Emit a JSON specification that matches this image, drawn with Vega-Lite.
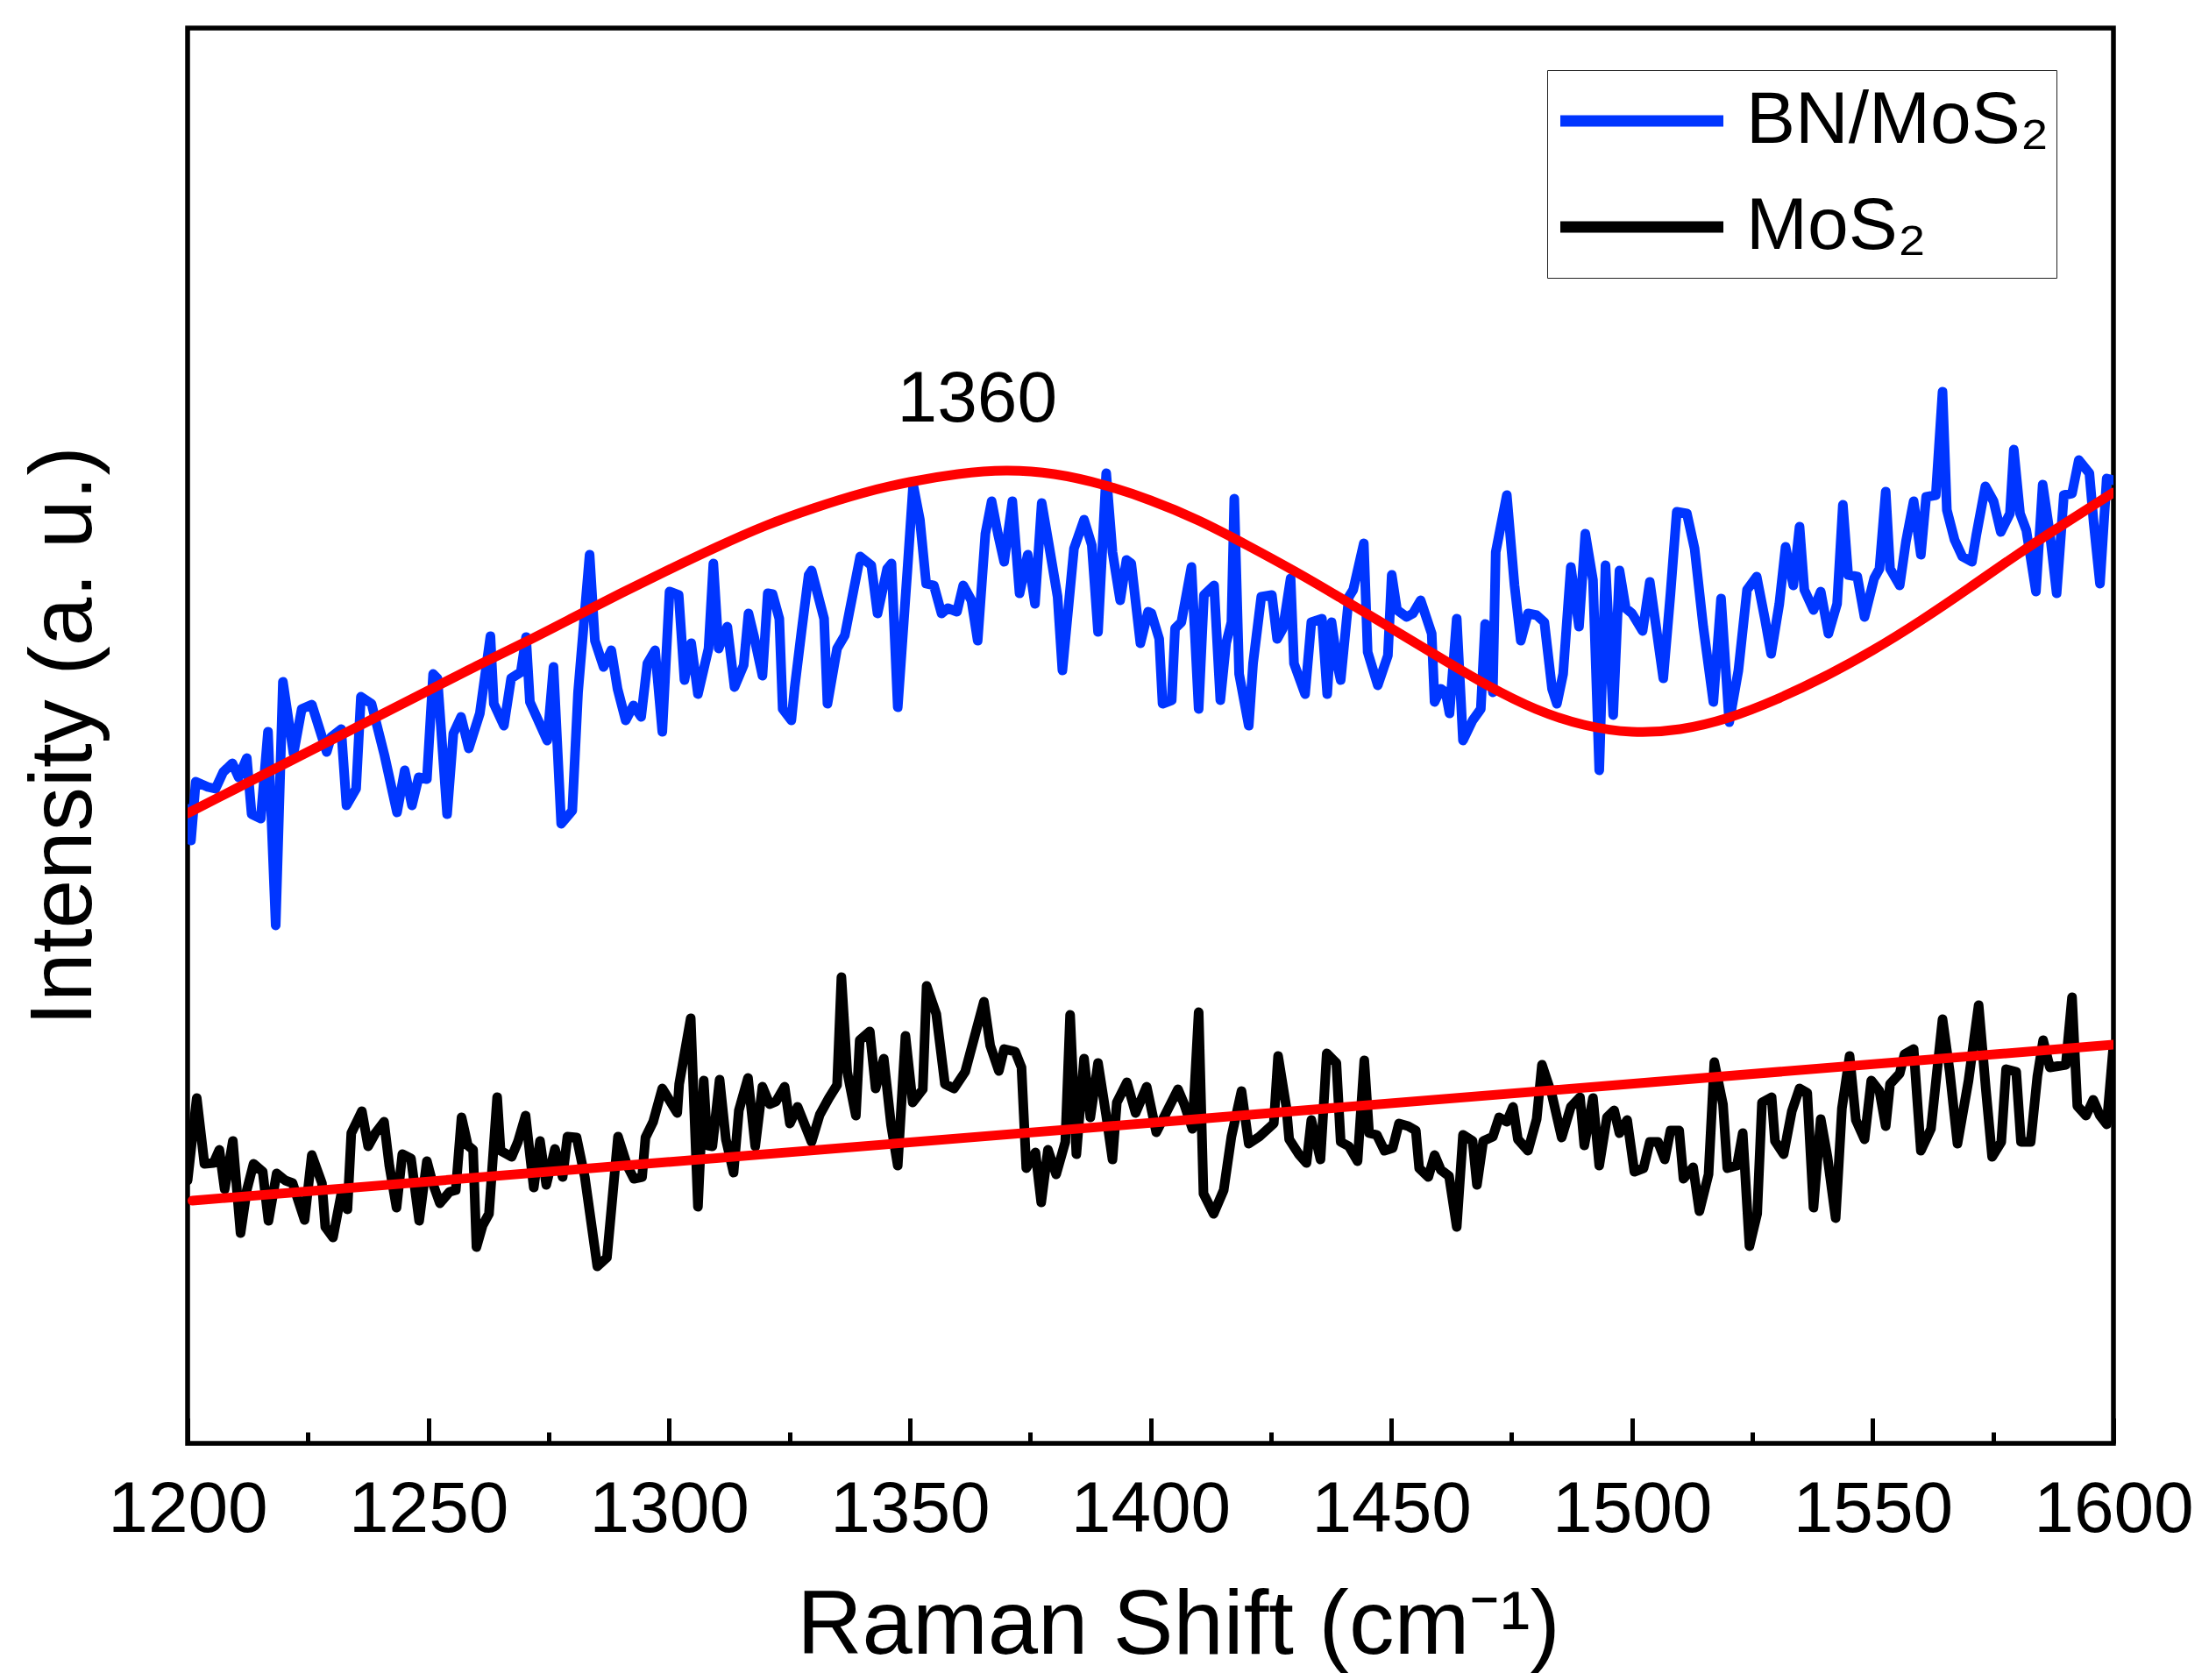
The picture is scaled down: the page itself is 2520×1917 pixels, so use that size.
{
  "$schema": "https://vega.github.io/schema/vega-lite/v6.json",
  "description": "Raman spectra of BN/MoS2 and MoS2 with fitted curves",
  "width": 2197,
  "height": 1615,
  "autosize": {"type": "none"},
  "padding": {"left": 214, "top": 32, "right": 109, "bottom": 270},
  "background": "white",
  "config": {
    "font": "Liberation Sans",
    "view": {"stroke": "#000000", "strokeWidth": 5.5},
    "axis": {"grid": false, "domain": false}
  },
  "datasets": {
    "spectra": [
      {"s": "BN/MoS₂", "x": 1200, "y": 724}, {"s": "BN/MoS₂", "x": 1200.7, "y": 688}, {"s": "BN/MoS₂", "x": 1201.7, "y": 755},
      {"s": "BN/MoS₂", "x": 1204.2, "y": 749}, {"s": "BN/MoS₂", "x": 1205.8, "y": 747}, {"s": "BN/MoS₂", "x": 1207.4, "y": 766},
      {"s": "BN/MoS₂", "x": 1209.3, "y": 776}, {"s": "BN/MoS₂", "x": 1210.6, "y": 760}, {"s": "BN/MoS₂", "x": 1212.3, "y": 782},
      {"s": "BN/MoS₂", "x": 1213.3, "y": 718}, {"s": "BN/MoS₂", "x": 1215.2, "y": 713}, {"s": "BN/MoS₂", "x": 1216.7, "y": 812},
      {"s": "BN/MoS₂", "x": 1218.3, "y": 591}, {"s": "BN/MoS₂", "x": 1219.8, "y": 869}, {"s": "BN/MoS₂", "x": 1222.0, "y": 787},
      {"s": "BN/MoS₂", "x": 1223.7, "y": 838}, {"s": "BN/MoS₂", "x": 1225.8, "y": 843}, {"s": "BN/MoS₂", "x": 1228.9, "y": 789},
      {"s": "BN/MoS₂", "x": 1229.8, "y": 806}, {"s": "BN/MoS₂", "x": 1231.9, "y": 815}, {"s": "BN/MoS₂", "x": 1233.0, "y": 728},
      {"s": "BN/MoS₂", "x": 1235.0, "y": 747}, {"s": "BN/MoS₂", "x": 1236.0, "y": 852}, {"s": "BN/MoS₂", "x": 1238.2, "y": 844},
      {"s": "BN/MoS₂", "x": 1240.9, "y": 785}, {"s": "BN/MoS₂", "x": 1243.5, "y": 720}, {"s": "BN/MoS₂", "x": 1245.1, "y": 768},
      {"s": "BN/MoS₂", "x": 1246.6, "y": 728}, {"s": "BN/MoS₂", "x": 1248.0, "y": 760}, {"s": "BN/MoS₂", "x": 1249.7, "y": 758},
      {"s": "BN/MoS₂", "x": 1251.0, "y": 878}, {"s": "BN/MoS₂", "x": 1251.9, "y": 873}, {"s": "BN/MoS₂", "x": 1253.9, "y": 718},
      {"s": "BN/MoS₂", "x": 1255.2, "y": 810}, {"s": "BN/MoS₂", "x": 1256.8, "y": 829}, {"s": "BN/MoS₂", "x": 1258.4, "y": 793},
      {"s": "BN/MoS₂", "x": 1260.7, "y": 833}, {"s": "BN/MoS₂", "x": 1262.9, "y": 921}, {"s": "BN/MoS₂", "x": 1263.6, "y": 844},
      {"s": "BN/MoS₂", "x": 1265.7, "y": 819}, {"s": "BN/MoS₂", "x": 1267.2, "y": 873}, {"s": "BN/MoS₂", "x": 1269.2, "y": 880},
      {"s": "BN/MoS₂", "x": 1270.3, "y": 920}, {"s": "BN/MoS₂", "x": 1271.1, "y": 846}, {"s": "BN/MoS₂", "x": 1274.7, "y": 802},
      {"s": "BN/MoS₂", "x": 1276.0, "y": 886}, {"s": "BN/MoS₂", "x": 1277.6, "y": 707}, {"s": "BN/MoS₂", "x": 1279.9, "y": 722},
      {"s": "BN/MoS₂", "x": 1281.1, "y": 857}, {"s": "BN/MoS₂", "x": 1283.5, "y": 1014}, {"s": "BN/MoS₂", "x": 1284.6, "y": 916},
      {"s": "BN/MoS₂", "x": 1286.4, "y": 886}, {"s": "BN/MoS₂", "x": 1288.0, "y": 905}, {"s": "BN/MoS₂", "x": 1289.3, "y": 861},
      {"s": "BN/MoS₂", "x": 1291.0, "y": 825}, {"s": "BN/MoS₂", "x": 1292.6, "y": 842}, {"s": "BN/MoS₂", "x": 1294.2, "y": 829},
      {"s": "BN/MoS₂", "x": 1295.5, "y": 890}, {"s": "BN/MoS₂", "x": 1297.1, "y": 905}, {"s": "BN/MoS₂", "x": 1298.6, "y": 812},
      {"s": "BN/MoS₂", "x": 1300.1, "y": 972}, {"s": "BN/MoS₂", "x": 1302.0, "y": 968}, {"s": "BN/MoS₂", "x": 1303.2, "y": 871},
      {"s": "BN/MoS₂", "x": 1304.6, "y": 913}, {"s": "BN/MoS₂", "x": 1306.0, "y": 855}, {"s": "BN/MoS₂", "x": 1308.2, "y": 907},
      {"s": "BN/MoS₂", "x": 1309.2, "y": 1004}, {"s": "BN/MoS₂", "x": 1310.3, "y": 907}, {"s": "BN/MoS₂", "x": 1312.1, "y": 932},
      {"s": "BN/MoS₂", "x": 1313.6, "y": 863}, {"s": "BN/MoS₂", "x": 1315.5, "y": 888}, {"s": "BN/MoS₂", "x": 1316.5, "y": 947},
      {"s": "BN/MoS₂", "x": 1317.6, "y": 922}, {"s": "BN/MoS₂", "x": 1319.4, "y": 876}, {"s": "BN/MoS₂", "x": 1320.5, "y": 970},
      {"s": "BN/MoS₂", "x": 1321.5, "y": 969}, {"s": "BN/MoS₂", "x": 1322.9, "y": 941}, {"s": "BN/MoS₂", "x": 1323.6, "y": 838},
      {"s": "BN/MoS₂", "x": 1325.4, "y": 825}, {"s": "BN/MoS₂", "x": 1326.1, "y": 863}, {"s": "BN/MoS₂", "x": 1327.5, "y": 926},
      {"s": "BN/MoS₂", "x": 1329.0, "y": 991}, {"s": "BN/MoS₂", "x": 1329.6, "y": 996}, {"s": "BN/MoS₂", "x": 1332.2, "y": 941},
      {"s": "BN/MoS₂", "x": 1332.9, "y": 844}, {"s": "BN/MoS₂", "x": 1334.9, "y": 907}, {"s": "BN/MoS₂", "x": 1336.5, "y": 922},
      {"s": "BN/MoS₂", "x": 1339.7, "y": 1012}, {"s": "BN/MoS₂", "x": 1342.0, "y": 1002}, {"s": "BN/MoS₂", "x": 1343.3, "y": 947},
      {"s": "BN/MoS₂", "x": 1345.3, "y": 998}, {"s": "BN/MoS₂", "x": 1346.2, "y": 1004}, {"s": "BN/MoS₂", "x": 1347.5, "y": 840},
      {"s": "BN/MoS₂", "x": 1349.5, "y": 996}, {"s": "BN/MoS₂", "x": 1350.7, "y": 1094}, {"s": "BN/MoS₂", "x": 1352.1, "y": 1054},
      {"s": "BN/MoS₂", "x": 1353.4, "y": 981}, {"s": "BN/MoS₂", "x": 1355.0, "y": 979}, {"s": "BN/MoS₂", "x": 1356.6, "y": 947},
      {"s": "BN/MoS₂", "x": 1357.9, "y": 953}, {"s": "BN/MoS₂", "x": 1359.8, "y": 949}, {"s": "BN/MoS₂", "x": 1361.1, "y": 979},
      {"s": "BN/MoS₂", "x": 1362.8, "y": 962}, {"s": "BN/MoS₂", "x": 1364.1, "y": 916}, {"s": "BN/MoS₂", "x": 1365.7, "y": 1038},
      {"s": "BN/MoS₂", "x": 1367.0, "y": 1075}, {"s": "BN/MoS₂", "x": 1368.3, "y": 1038}, {"s": "BN/MoS₂", "x": 1369.6, "y": 1006},
      {"s": "BN/MoS₂", "x": 1371.3, "y": 1075}, {"s": "BN/MoS₂", "x": 1372.8, "y": 970}, {"s": "BN/MoS₂", "x": 1374.5, "y": 1014},
      {"s": "BN/MoS₂", "x": 1376.0, "y": 958}, {"s": "BN/MoS₂", "x": 1377.4, "y": 1073}, {"s": "BN/MoS₂", "x": 1378.9, "y": 1025},
      {"s": "BN/MoS₂", "x": 1380.7, "y": 966}, {"s": "BN/MoS₂", "x": 1381.7, "y": 882}, {"s": "BN/MoS₂", "x": 1384.1, "y": 1021},
      {"s": "BN/MoS₂", "x": 1386.2, "y": 1054}, {"s": "BN/MoS₂", "x": 1387.8, "y": 1025}, {"s": "BN/MoS₂", "x": 1389.1, "y": 926},
      {"s": "BN/MoS₂", "x": 1390.8, "y": 1107}, {"s": "BN/MoS₂", "x": 1392.1, "y": 1017}, {"s": "BN/MoS₂", "x": 1393.7, "y": 962},
      {"s": "BN/MoS₂", "x": 1395.0, "y": 1008}, {"s": "BN/MoS₂", "x": 1396.0, "y": 1004}, {"s": "BN/MoS₂", "x": 1397.9, "y": 913},
      {"s": "BN/MoS₂", "x": 1399.5, "y": 949}, {"s": "BN/MoS₂", "x": 1400.2, "y": 947}, {"s": "BN/MoS₂", "x": 1401.8, "y": 918},
      {"s": "BN/MoS₂", "x": 1402.5, "y": 844}, {"s": "BN/MoS₂", "x": 1404.4, "y": 848}, {"s": "BN/MoS₂", "x": 1405.1, "y": 930},
      {"s": "BN/MoS₂", "x": 1406.4, "y": 937}, {"s": "BN/MoS₂", "x": 1408.5, "y": 1000}, {"s": "BN/MoS₂", "x": 1410.0, "y": 838},
      {"s": "BN/MoS₂", "x": 1411.1, "y": 968}, {"s": "BN/MoS₂", "x": 1413.2, "y": 979}, {"s": "BN/MoS₂", "x": 1414.5, "y": 848},
      {"s": "BN/MoS₂", "x": 1415.7, "y": 913}, {"s": "BN/MoS₂", "x": 1416.8, "y": 937}, {"s": "BN/MoS₂", "x": 1417.4, "y": 1078},
      {"s": "BN/MoS₂", "x": 1418.4, "y": 878}, {"s": "BN/MoS₂", "x": 1420.4, "y": 819}, {"s": "BN/MoS₂", "x": 1421.3, "y": 890},
      {"s": "BN/MoS₂", "x": 1423.0, "y": 966}, {"s": "BN/MoS₂", "x": 1425.2, "y": 968}, {"s": "BN/MoS₂", "x": 1426.3, "y": 918},
      {"s": "BN/MoS₂", "x": 1427.5, "y": 930}, {"s": "BN/MoS₂", "x": 1429.1, "y": 987}, {"s": "BN/MoS₂", "x": 1429.8, "y": 890},
      {"s": "BN/MoS₂", "x": 1432.1, "y": 855}, {"s": "BN/MoS₂", "x": 1433.4, "y": 937}, {"s": "BN/MoS₂", "x": 1435.6, "y": 941},
      {"s": "BN/MoS₂", "x": 1436.7, "y": 855}, {"s": "BN/MoS₂", "x": 1437.6, "y": 937}, {"s": "BN/MoS₂", "x": 1438.9, "y": 886},
      {"s": "BN/MoS₂", "x": 1439.5, "y": 871}, {"s": "BN/MoS₂", "x": 1441.2, "y": 966}, {"s": "BN/MoS₂", "x": 1442.1, "y": 974},
      {"s": "BN/MoS₂", "x": 1444.3, "y": 1027}, {"s": "BN/MoS₂", "x": 1445.1, "y": 903}, {"s": "BN/MoS₂", "x": 1447.2, "y": 865},
      {"s": "BN/MoS₂", "x": 1449.3, "y": 899}, {"s": "BN/MoS₂", "x": 1450.1, "y": 991}, {"s": "BN/MoS₂", "x": 1451.2, "y": 951},
      {"s": "BN/MoS₂", "x": 1453.2, "y": 943}, {"s": "BN/MoS₂", "x": 1454.5, "y": 947}, {"s": "BN/MoS₂", "x": 1456.1, "y": 962},
      {"s": "BN/MoS₂", "x": 1458.4, "y": 924}, {"s": "BN/MoS₂", "x": 1459.0, "y": 846}, {"s": "BN/MoS₂", "x": 1460.3, "y": 861},
      {"s": "BN/MoS₂", "x": 1461.3, "y": 857}, {"s": "BN/MoS₂", "x": 1462.1, "y": 833}, {"s": "BN/MoS₂", "x": 1463.6, "y": 941},
      {"s": "BN/MoS₂", "x": 1464.9, "y": 802}, {"s": "BN/MoS₂", "x": 1466.9, "y": 825}, {"s": "BN/MoS₂", "x": 1468.6, "y": 838},
      {"s": "BN/MoS₂", "x": 1469.5, "y": 935}, {"s": "BN/MoS₂", "x": 1471.1, "y": 857}, {"s": "BN/MoS₂", "x": 1471.7, "y": 1017},
      {"s": "BN/MoS₂", "x": 1474.0, "y": 1082}, {"s": "BN/MoS₂", "x": 1475.6, "y": 979}, {"s": "BN/MoS₂", "x": 1476.9, "y": 916},
      {"s": "BN/MoS₂", "x": 1478.4, "y": 947}, {"s": "BN/MoS₂", "x": 1480.2, "y": 945}, {"s": "BN/MoS₂", "x": 1481.8, "y": 937},
      {"s": "BN/MoS₂", "x": 1483.4, "y": 861}, {"s": "BN/MoS₂", "x": 1484.4, "y": 844}, {"s": "BN/MoS₂", "x": 1485.7, "y": 878},
      {"s": "BN/MoS₂", "x": 1487.3, "y": 1000}, {"s": "BN/MoS₂", "x": 1489.0, "y": 932}, {"s": "BN/MoS₂", "x": 1490.3, "y": 1038},
      {"s": "BN/MoS₂", "x": 1491.9, "y": 985}, {"s": "BN/MoS₂", "x": 1493.2, "y": 768}, {"s": "BN/MoS₂", "x": 1494.5, "y": 1002},
      {"s": "BN/MoS₂", "x": 1496.1, "y": 831}, {"s": "BN/MoS₂", "x": 1497.4, "y": 996}, {"s": "BN/MoS₂", "x": 1498.7, "y": 953},
      {"s": "BN/MoS₂", "x": 1500.0, "y": 947}, {"s": "BN/MoS₂", "x": 1502.2, "y": 927}, {"s": "BN/MoS₂", "x": 1503.7, "y": 983},
      {"s": "BN/MoS₂", "x": 1505.0, "y": 932}, {"s": "BN/MoS₂", "x": 1506.5, "y": 873}, {"s": "BN/MoS₂", "x": 1508.0, "y": 970},
      {"s": "BN/MoS₂", "x": 1509.3, "y": 1063}, {"s": "BN/MoS₂", "x": 1511.4, "y": 1061}, {"s": "BN/MoS₂", "x": 1513.0, "y": 1021},
      {"s": "BN/MoS₂", "x": 1514.8, "y": 932}, {"s": "BN/MoS₂", "x": 1516.9, "y": 846}, {"s": "BN/MoS₂", "x": 1518.5, "y": 964},
      {"s": "BN/MoS₂", "x": 1520.2, "y": 823}, {"s": "BN/MoS₂", "x": 1522.1, "y": 882}, {"s": "BN/MoS₂", "x": 1523.9, "y": 974},
      {"s": "BN/MoS₂", "x": 1525.9, "y": 989}, {"s": "BN/MoS₂", "x": 1527.6, "y": 941}, {"s": "BN/MoS₂", "x": 1528.9, "y": 901},
      {"s": "BN/MoS₂", "x": 1530.6, "y": 958}, {"s": "BN/MoS₂", "x": 1531.9, "y": 1023}, {"s": "BN/MoS₂", "x": 1533.5, "y": 979},
      {"s": "BN/MoS₂", "x": 1534.8, "y": 1046}, {"s": "BN/MoS₂", "x": 1535.8, "y": 974}, {"s": "BN/MoS₂", "x": 1537.7, "y": 951},
      {"s": "BN/MoS₂", "x": 1539.2, "y": 972}, {"s": "BN/MoS₂", "x": 1540.8, "y": 924}, {"s": "BN/MoS₂", "x": 1542.6, "y": 958},
      {"s": "BN/MoS₂", "x": 1543.8, "y": 1071}, {"s": "BN/MoS₂", "x": 1544.9, "y": 991}, {"s": "BN/MoS₂", "x": 1546.8, "y": 989},
      {"s": "BN/MoS₂", "x": 1548.3, "y": 943}, {"s": "BN/MoS₂", "x": 1550.3, "y": 987}, {"s": "BN/MoS₂", "x": 1551.4, "y": 998},
      {"s": "BN/MoS₂", "x": 1552.7, "y": 1086}, {"s": "BN/MoS₂", "x": 1553.6, "y": 998}, {"s": "BN/MoS₂", "x": 1555.6, "y": 979},
      {"s": "BN/MoS₂", "x": 1556.9, "y": 1029}, {"s": "BN/MoS₂", "x": 1558.5, "y": 1075}, {"s": "BN/MoS₂", "x": 1560.0, "y": 1014},
      {"s": "BN/MoS₂", "x": 1561.1, "y": 1080}, {"s": "BN/MoS₂", "x": 1563.1, "y": 1082}, {"s": "BN/MoS₂", "x": 1564.5, "y": 1200},
      {"s": "BN/MoS₂", "x": 1565.4, "y": 1065}, {"s": "BN/MoS₂", "x": 1567.0, "y": 1031}, {"s": "BN/MoS₂", "x": 1568.6, "y": 1012},
      {"s": "BN/MoS₂", "x": 1570.6, "y": 1006}, {"s": "BN/MoS₂", "x": 1571.5, "y": 1036}, {"s": "BN/MoS₂", "x": 1573.4, "y": 1092},
      {"s": "BN/MoS₂", "x": 1575.1, "y": 1075}, {"s": "BN/MoS₂", "x": 1576.6, "y": 1040}, {"s": "BN/MoS₂", "x": 1578.5, "y": 1061},
      {"s": "BN/MoS₂", "x": 1579.3, "y": 1134}, {"s": "BN/MoS₂", "x": 1580.6, "y": 1061}, {"s": "BN/MoS₂", "x": 1581.9, "y": 1042},
      {"s": "BN/MoS₂", "x": 1583.9, "y": 972}, {"s": "BN/MoS₂", "x": 1585.3, "y": 1094}, {"s": "BN/MoS₂", "x": 1586.8, "y": 1038},
      {"s": "BN/MoS₂", "x": 1588.2, "y": 970}, {"s": "BN/MoS₂", "x": 1589.7, "y": 1082}, {"s": "BN/MoS₂", "x": 1591.4, "y": 1084},
      {"s": "BN/MoS₂", "x": 1592.8, "y": 1122}, {"s": "BN/MoS₂", "x": 1595.0, "y": 1107}, {"s": "BN/MoS₂", "x": 1595.9, "y": 1050},
      {"s": "BN/MoS₂", "x": 1597.2, "y": 981}, {"s": "BN/MoS₂", "x": 1598.6, "y": 1101}, {"s": "BN/MoS₂", "x": 1600.0, "y": 1099},

      {"s": "MoS₂", "x": 1200, "y": 300}, {"s": "MoS₂", "x": 1201.9, "y": 394}, {"s": "MoS₂", "x": 1203.5, "y": 319},
      {"s": "MoS₂", "x": 1205.4, "y": 320}, {"s": "MoS₂", "x": 1206.6, "y": 335}, {"s": "MoS₂", "x": 1207.7, "y": 290},
      {"s": "MoS₂", "x": 1209.4, "y": 345}, {"s": "MoS₂", "x": 1211.0, "y": 240}, {"s": "MoS₂", "x": 1212.3, "y": 289},
      {"s": "MoS₂", "x": 1213.7, "y": 319}, {"s": "MoS₂", "x": 1215.6, "y": 310}, {"s": "MoS₂", "x": 1216.8, "y": 254},
      {"s": "MoS₂", "x": 1218.5, "y": 308}, {"s": "MoS₂", "x": 1220.3, "y": 300}, {"s": "MoS₂", "x": 1221.8, "y": 297},
      {"s": "MoS₂", "x": 1224.3, "y": 255}, {"s": "MoS₂", "x": 1225.8, "y": 329}, {"s": "MoS₂", "x": 1227.9, "y": 297},
      {"s": "MoS₂", "x": 1228.6, "y": 247}, {"s": "MoS₂", "x": 1230.2, "y": 235}, {"s": "MoS₂", "x": 1231.9, "y": 284},
      {"s": "MoS₂", "x": 1233.2, "y": 267}, {"s": "MoS₂", "x": 1234.0, "y": 354}, {"s": "MoS₂", "x": 1236.2, "y": 379},
      {"s": "MoS₂", "x": 1237.5, "y": 339}, {"s": "MoS₂", "x": 1239.0, "y": 354}, {"s": "MoS₂", "x": 1240.8, "y": 367},
      {"s": "MoS₂", "x": 1241.9, "y": 317}, {"s": "MoS₂", "x": 1243.4, "y": 269}, {"s": "MoS₂", "x": 1244.6, "y": 330},
      {"s": "MoS₂", "x": 1246.4, "y": 325}, {"s": "MoS₂", "x": 1248.1, "y": 254}, {"s": "MoS₂", "x": 1249.7, "y": 322},
      {"s": "MoS₂", "x": 1250.9, "y": 297}, {"s": "MoS₂", "x": 1252.4, "y": 274}, {"s": "MoS₂", "x": 1254.4, "y": 287},
      {"s": "MoS₂", "x": 1255.7, "y": 289}, {"s": "MoS₂", "x": 1256.9, "y": 372}, {"s": "MoS₂", "x": 1258.2, "y": 340},
      {"s": "MoS₂", "x": 1259.3, "y": 335}, {"s": "MoS₂", "x": 1260.0, "y": 224}, {"s": "MoS₂", "x": 1261.3, "y": 249},
      {"s": "MoS₂", "x": 1262.6, "y": 262}, {"s": "MoS₂", "x": 1264.3, "y": 395}, {"s": "MoS₂", "x": 1265.0, "y": 334},
      {"s": "MoS₂", "x": 1267.3, "y": 327}, {"s": "MoS₂", "x": 1268.6, "y": 344}, {"s": "MoS₂", "x": 1270.2, "y": 374},
      {"s": "MoS₂", "x": 1271.2, "y": 325}, {"s": "MoS₂", "x": 1271.9, "y": 292}, {"s": "MoS₂", "x": 1273.2, "y": 345},
      {"s": "MoS₂", "x": 1274.5, "y": 295}, {"s": "MoS₂", "x": 1276.3, "y": 336}, {"s": "MoS₂", "x": 1277.9, "y": 304},
      {"s": "MoS₂", "x": 1278.9, "y": 350}, {"s": "MoS₂", "x": 1280.8, "y": 349}, {"s": "MoS₂", "x": 1282.5, "y": 304},
      {"s": "MoS₂", "x": 1285.1, "y": 202}, {"s": "MoS₂", "x": 1287.1, "y": 212}, {"s": "MoS₂", "x": 1289.4, "y": 350},
      {"s": "MoS₂", "x": 1291.3, "y": 317}, {"s": "MoS₂", "x": 1292.7, "y": 302}, {"s": "MoS₂", "x": 1294.4, "y": 304},
      {"s": "MoS₂", "x": 1295.1, "y": 349}, {"s": "MoS₂", "x": 1296.7, "y": 367}, {"s": "MoS₂", "x": 1298.6, "y": 405},
      {"s": "MoS₂", "x": 1301.7, "y": 377}, {"s": "MoS₂", "x": 1302.1, "y": 410}, {"s": "MoS₂", "x": 1304.5, "y": 485},
      {"s": "MoS₂", "x": 1306.0, "y": 270}, {"s": "MoS₂", "x": 1307.2, "y": 414}, {"s": "MoS₂", "x": 1308.0, "y": 340},
      {"s": "MoS₂", "x": 1309.0, "y": 339}, {"s": "MoS₂", "x": 1310.5, "y": 415}, {"s": "MoS₂", "x": 1311.8, "y": 347},
      {"s": "MoS₂", "x": 1313.4, "y": 309}, {"s": "MoS₂", "x": 1314.5, "y": 380}, {"s": "MoS₂", "x": 1316.4, "y": 417},
      {"s": "MoS₂", "x": 1317.9, "y": 339}, {"s": "MoS₂", "x": 1319.4, "y": 407}, {"s": "MoS₂", "x": 1320.9, "y": 387},
      {"s": "MoS₂", "x": 1322.2, "y": 390}, {"s": "MoS₂", "x": 1324.0, "y": 407}, {"s": "MoS₂", "x": 1325.1, "y": 365},
      {"s": "MoS₂", "x": 1326.7, "y": 384}, {"s": "MoS₂", "x": 1329.6, "y": 344}, {"s": "MoS₂", "x": 1331.3, "y": 375},
      {"s": "MoS₂", "x": 1333.2, "y": 394}, {"s": "MoS₂", "x": 1334.9, "y": 409}, {"s": "MoS₂", "x": 1335.8, "y": 532},
      {"s": "MoS₂", "x": 1337.0, "y": 424}, {"s": "MoS₂", "x": 1338.8, "y": 374}, {"s": "MoS₂", "x": 1339.6, "y": 460},
      {"s": "MoS₂", "x": 1341.7, "y": 470}, {"s": "MoS₂", "x": 1342.9, "y": 405}, {"s": "MoS₂", "x": 1344.6, "y": 439},
      {"s": "MoS₂", "x": 1346.1, "y": 364}, {"s": "MoS₂", "x": 1347.5, "y": 317}, {"s": "MoS₂", "x": 1349.1, "y": 465},
      {"s": "MoS₂", "x": 1350.6, "y": 389}, {"s": "MoS₂", "x": 1352.7, "y": 404}, {"s": "MoS₂", "x": 1353.5, "y": 522},
      {"s": "MoS₂", "x": 1355.5, "y": 490}, {"s": "MoS₂", "x": 1357.3, "y": 410}, {"s": "MoS₂", "x": 1359.2, "y": 405},
      {"s": "MoS₂", "x": 1361.5, "y": 424}, {"s": "MoS₂", "x": 1365.4, "y": 504}, {"s": "MoS₂", "x": 1366.7, "y": 454},
      {"s": "MoS₂", "x": 1368.5, "y": 425}, {"s": "MoS₂", "x": 1369.6, "y": 450}, {"s": "MoS₂", "x": 1371.9, "y": 447},
      {"s": "MoS₂", "x": 1373.2, "y": 429}, {"s": "MoS₂", "x": 1374.2, "y": 314}, {"s": "MoS₂", "x": 1376.1, "y": 332},
      {"s": "MoS₂", "x": 1377.3, "y": 275}, {"s": "MoS₂", "x": 1378.7, "y": 335}, {"s": "MoS₂", "x": 1380.4, "y": 307},
      {"s": "MoS₂", "x": 1382.3, "y": 344}, {"s": "MoS₂", "x": 1383.3, "y": 489}, {"s": "MoS₂", "x": 1384.6, "y": 330},
      {"s": "MoS₂", "x": 1386.2, "y": 439}, {"s": "MoS₂", "x": 1387.5, "y": 372}, {"s": "MoS₂", "x": 1389.1, "y": 434},
      {"s": "MoS₂", "x": 1390.8, "y": 374}, {"s": "MoS₂", "x": 1392.1, "y": 324}, {"s": "MoS₂", "x": 1393.0, "y": 389},
      {"s": "MoS₂", "x": 1395.1, "y": 412}, {"s": "MoS₂", "x": 1396.9, "y": 377}, {"s": "MoS₂", "x": 1399.2, "y": 407},
      {"s": "MoS₂", "x": 1401.2, "y": 355}, {"s": "MoS₂", "x": 1403.5, "y": 380}, {"s": "MoS₂", "x": 1405.7, "y": 404},
      {"s": "MoS₂", "x": 1407.0, "y": 387}, {"s": "MoS₂", "x": 1408.7, "y": 359}, {"s": "MoS₂", "x": 1410.0, "y": 492},
      {"s": "MoS₂", "x": 1411.0, "y": 285}, {"s": "MoS₂", "x": 1413.1, "y": 262}, {"s": "MoS₂", "x": 1415.2, "y": 289},
      {"s": "MoS₂", "x": 1416.8, "y": 350}, {"s": "MoS₂", "x": 1418.9, "y": 402}, {"s": "MoS₂", "x": 1420.4, "y": 342},
      {"s": "MoS₂", "x": 1422.6, "y": 350}, {"s": "MoS₂", "x": 1425.6, "y": 365}, {"s": "MoS₂", "x": 1426.5, "y": 442},
      {"s": "MoS₂", "x": 1428.2, "y": 384}, {"s": "MoS₂", "x": 1428.8, "y": 347}, {"s": "MoS₂", "x": 1430.8, "y": 330},
      {"s": "MoS₂", "x": 1432.4, "y": 320}, {"s": "MoS₂", "x": 1433.4, "y": 369}, {"s": "MoS₂", "x": 1435.3, "y": 324},
      {"s": "MoS₂", "x": 1436.6, "y": 445}, {"s": "MoS₂", "x": 1438.6, "y": 434}, {"s": "MoS₂", "x": 1439.5, "y": 344},
      {"s": "MoS₂", "x": 1441.2, "y": 339}, {"s": "MoS₂", "x": 1443.0, "y": 322}, {"s": "MoS₂", "x": 1444.4, "y": 437},
      {"s": "MoS₂", "x": 1445.4, "y": 354}, {"s": "MoS₂", "x": 1447.0, "y": 352}, {"s": "MoS₂", "x": 1448.6, "y": 334},
      {"s": "MoS₂", "x": 1450.3, "y": 337}, {"s": "MoS₂", "x": 1451.6, "y": 365}, {"s": "MoS₂", "x": 1453.5, "y": 362},
      {"s": "MoS₂", "x": 1455.1, "y": 357}, {"s": "MoS₂", "x": 1455.8, "y": 314}, {"s": "MoS₂", "x": 1457.7, "y": 304},
      {"s": "MoS₂", "x": 1459.0, "y": 329}, {"s": "MoS₂", "x": 1460.3, "y": 312}, {"s": "MoS₂", "x": 1462.0, "y": 305},
      {"s": "MoS₂", "x": 1463.6, "y": 247}, {"s": "MoS₂", "x": 1464.9, "y": 352}, {"s": "MoS₂", "x": 1466.9, "y": 345},
      {"s": "MoS₂", "x": 1467.8, "y": 295}, {"s": "MoS₂", "x": 1469.1, "y": 345}, {"s": "MoS₂", "x": 1471.1, "y": 350},
      {"s": "MoS₂", "x": 1472.4, "y": 372}, {"s": "MoS₂", "x": 1474.0, "y": 367}, {"s": "MoS₂", "x": 1475.3, "y": 384},
      {"s": "MoS₂", "x": 1476.3, "y": 347}, {"s": "MoS₂", "x": 1478.4, "y": 334}, {"s": "MoS₂", "x": 1480.2, "y": 370},
      {"s": "MoS₂", "x": 1481.3, "y": 432}, {"s": "MoS₂", "x": 1483.4, "y": 397}, {"s": "MoS₂", "x": 1485.4, "y": 349},
      {"s": "MoS₂", "x": 1487.3, "y": 384}, {"s": "MoS₂", "x": 1489.2, "y": 395}, {"s": "MoS₂", "x": 1490.1, "y": 340},
      {"s": "MoS₂", "x": 1491.9, "y": 394}, {"s": "MoS₂", "x": 1493.2, "y": 317}, {"s": "MoS₂", "x": 1494.8, "y": 372},
      {"s": "MoS₂", "x": 1496.3, "y": 380}, {"s": "MoS₂", "x": 1497.4, "y": 354}, {"s": "MoS₂", "x": 1499.0, "y": 369},
      {"s": "MoS₂", "x": 1500.5, "y": 310}, {"s": "MoS₂", "x": 1502.4, "y": 314}, {"s": "MoS₂", "x": 1503.7, "y": 344},
      {"s": "MoS₂", "x": 1505.4, "y": 344}, {"s": "MoS₂", "x": 1506.8, "y": 324}, {"s": "MoS₂", "x": 1508.0, "y": 357},
      {"s": "MoS₂", "x": 1509.8, "y": 357}, {"s": "MoS₂", "x": 1510.7, "y": 302}, {"s": "MoS₂", "x": 1512.7, "y": 315},
      {"s": "MoS₂", "x": 1514.0, "y": 265}, {"s": "MoS₂", "x": 1515.9, "y": 307}, {"s": "MoS₂", "x": 1517.1, "y": 435},
      {"s": "MoS₂", "x": 1518.9, "y": 387}, {"s": "MoS₂", "x": 1519.8, "y": 314}, {"s": "MoS₂", "x": 1521.8, "y": 317},
      {"s": "MoS₂", "x": 1523.0, "y": 354}, {"s": "MoS₂", "x": 1524.4, "y": 225}, {"s": "MoS₂", "x": 1526.0, "y": 262},
      {"s": "MoS₂", "x": 1527.0, "y": 389}, {"s": "MoS₂", "x": 1529.0, "y": 395}, {"s": "MoS₂", "x": 1529.7, "y": 345},
      {"s": "MoS₂", "x": 1531.5, "y": 330}, {"s": "MoS₂", "x": 1533.2, "y": 379}, {"s": "MoS₂", "x": 1534.8, "y": 405},
      {"s": "MoS₂", "x": 1536.4, "y": 400}, {"s": "MoS₂", "x": 1537.7, "y": 269}, {"s": "MoS₂", "x": 1539.2, "y": 370},
      {"s": "MoS₂", "x": 1540.6, "y": 327}, {"s": "MoS₂", "x": 1542.3, "y": 257}, {"s": "MoS₂", "x": 1543.6, "y": 382},
      {"s": "MoS₂", "x": 1545.2, "y": 442}, {"s": "MoS₂", "x": 1546.5, "y": 369}, {"s": "MoS₂", "x": 1548.3, "y": 347},
      {"s": "MoS₂", "x": 1549.7, "y": 414}, {"s": "MoS₂", "x": 1551.4, "y": 402}, {"s": "MoS₂", "x": 1552.7, "y": 362},
      {"s": "MoS₂", "x": 1553.6, "y": 410}, {"s": "MoS₂", "x": 1555.6, "y": 422}, {"s": "MoS₂", "x": 1556.6, "y": 444},
      {"s": "MoS₂", "x": 1558.5, "y": 450}, {"s": "MoS₂", "x": 1560.0, "y": 334}, {"s": "MoS₂", "x": 1562.1, "y": 359},
      {"s": "MoS₂", "x": 1564.5, "y": 484}, {"s": "MoS₂", "x": 1566.0, "y": 424}, {"s": "MoS₂", "x": 1567.6, "y": 342},
      {"s": "MoS₂", "x": 1569.9, "y": 414}, {"s": "MoS₂", "x": 1572.0, "y": 500}, {"s": "MoS₂", "x": 1573.5, "y": 404},
      {"s": "MoS₂", "x": 1574.8, "y": 327}, {"s": "MoS₂", "x": 1576.7, "y": 344}, {"s": "MoS₂", "x": 1577.7, "y": 427},
      {"s": "MoS₂", "x": 1579.8, "y": 424}, {"s": "MoS₂", "x": 1580.8, "y": 344}, {"s": "MoS₂", "x": 1582.8, "y": 344},
      {"s": "MoS₂", "x": 1584.2, "y": 419}, {"s": "MoS₂", "x": 1585.4, "y": 460}, {"s": "MoS₂", "x": 1586.8, "y": 429},
      {"s": "MoS₂", "x": 1590.1, "y": 432}, {"s": "MoS₂", "x": 1591.4, "y": 509}, {"s": "MoS₂", "x": 1592.5, "y": 385},
      {"s": "MoS₂", "x": 1594.3, "y": 374}, {"s": "MoS₂", "x": 1595.8, "y": 392}, {"s": "MoS₂", "x": 1597.2, "y": 374},
      {"s": "MoS₂", "x": 1598.6, "y": 364}, {"s": "MoS₂", "x": 1600.0, "y": 454}
    ],
    "fit": [
      {"f": "BN/MoS₂", "x": 1200, "y": 719}, {"f": "BN/MoS₂", "x": 1210, "y": 747}, {"f": "BN/MoS₂", "x": 1220, "y": 775},
      {"f": "BN/MoS₂", "x": 1230, "y": 803}, {"f": "BN/MoS₂", "x": 1240, "y": 831}, {"f": "BN/MoS₂", "x": 1250, "y": 859},
      {"f": "BN/MoS₂", "x": 1260, "y": 887}, {"f": "BN/MoS₂", "x": 1270, "y": 914}, {"f": "BN/MoS₂", "x": 1280, "y": 942},
      {"f": "BN/MoS₂", "x": 1290, "y": 970}, {"f": "BN/MoS₂", "x": 1300, "y": 997}, {"f": "BN/MoS₂", "x": 1310, "y": 1023},
      {"f": "BN/MoS₂", "x": 1320, "y": 1047}, {"f": "BN/MoS₂", "x": 1330, "y": 1067}, {"f": "BN/MoS₂", "x": 1340, "y": 1084},
      {"f": "BN/MoS₂", "x": 1350, "y": 1097}, {"f": "BN/MoS₂", "x": 1360, "y": 1106}, {"f": "BN/MoS₂", "x": 1370, "y": 1110},
      {"f": "BN/MoS₂", "x": 1380, "y": 1106}, {"f": "BN/MoS₂", "x": 1390, "y": 1094}, {"f": "BN/MoS₂", "x": 1400, "y": 1076},
      {"f": "BN/MoS₂", "x": 1410, "y": 1053}, {"f": "BN/MoS₂", "x": 1420, "y": 1025}, {"f": "BN/MoS₂", "x": 1430, "y": 995},
      {"f": "BN/MoS₂", "x": 1440, "y": 963}, {"f": "BN/MoS₂", "x": 1450, "y": 930}, {"f": "BN/MoS₂", "x": 1460, "y": 897},
      {"f": "BN/MoS₂", "x": 1470, "y": 865}, {"f": "BN/MoS₂", "x": 1480, "y": 838}, {"f": "BN/MoS₂", "x": 1490, "y": 820},
      {"f": "BN/MoS₂", "x": 1500, "y": 812}, {"f": "BN/MoS₂", "x": 1510, "y": 815}, {"f": "BN/MoS₂", "x": 1520, "y": 828},
      {"f": "BN/MoS₂", "x": 1530, "y": 849}, {"f": "BN/MoS₂", "x": 1540, "y": 875}, {"f": "BN/MoS₂", "x": 1550, "y": 905},
      {"f": "BN/MoS₂", "x": 1560, "y": 939}, {"f": "BN/MoS₂", "x": 1570, "y": 976}, {"f": "BN/MoS₂", "x": 1580, "y": 1014},
      {"f": "BN/MoS₂", "x": 1590, "y": 1050}, {"f": "BN/MoS₂", "x": 1600, "y": 1085},
      {"f": "MoS₂", "x": 1201, "y": 277}, {"f": "MoS₂", "x": 1600, "y": 455}
    ],
    "notes": [
      {"x": 1364, "y": 1166, "label": "1360"}
    ]
  },
  "layer": [
    {
      "data": {"name": "spectra"},
      "mark": {"type": "line", "strokeWidth": 11, "strokeJoin": "round", "strokeCap": "round", "clip": true},
      "encoding": {
        "x": {
          "field": "x",
          "type": "quantitative",
          "scale": {"domain": [1200, 1600], "nice": false, "zero": false},
          "axis": {
            "values": [1200, 1225, 1250, 1275, 1300, 1325, 1350, 1375, 1400, 1425, 1450, 1475, 1500, 1525, 1550, 1575, 1600],
            "format": "d",
            "labelExpr": "datum.value % 50 === 0 ? datum.label : ''",
            "tickSize": {"condition": {"test": "datum.value % 50 === 0", "value": -29}, "value": -13},
            "tickWidth": 5,
            "tickColor": "#000000",
            "labelFontSize": 82,
            "labelColor": "#000000",
            "labelPadding": 64,
            "labelLimit": 600,
            "labelFlush": false,
            "labelOverlap": false,
            "title": "Raman Shift (cm⁻¹)",
            "titleFontSize": 103,
            "titleFontWeight": "normal",
            "titleColor": "#000000",
            "titleX": 1130,
            "titlePadding": 26
          }
        },
        "y": {
          "field": "y",
          "type": "quantitative",
          "scale": {"domain": [0, 1615], "nice": false, "zero": false},
          "axis": {
            "ticks": false,
            "labels": false,
            "title": "Intensity (a. u.)",
            "titleFontSize": 100,
            "titleFontWeight": "normal",
            "titleColor": "#000000",
            "titlePadding": 90
          }
        },
        "color": {
          "field": "s",
          "type": "nominal",
          "scale": {"domain": ["BN/MoS₂", "MoS₂"], "range": ["#0035ff", "#000000"]},
          "legend": {
            "title": null,
            "orient": "none",
            "legendX": 1551,
            "legendY": 48,
            "symbolType": "stroke",
            "symbolSize": 34600,
            "symbolStrokeWidth": 13,
            "clipHeight": 100,
            "rowPadding": 21,
            "labelFontSize": 84,
            "labelColor": "#000000",
            "labelOffset": 19,
            "labelLimit": 1000,
            "padding": 8,
            "strokeColor": "#222222"
          }
        }
      }
    },
    {
      "data": {"name": "fit"},
      "mark": {"type": "line", "color": "#ff0000", "strokeWidth": 11, "strokeCap": "round", "interpolate": "natural", "clip": true},
      "encoding": {
        "x": {"field": "x", "type": "quantitative"},
        "y": {"field": "y", "type": "quantitative"},
        "detail": {"field": "f"}
      }
    },
    {
      "data": {"name": "notes"},
      "mark": {"type": "text", "fontSize": 82, "align": "center", "baseline": "alphabetic", "color": "#000000"},
      "encoding": {
        "x": {"field": "x", "type": "quantitative"},
        "y": {"field": "y", "type": "quantitative"},
        "text": {"field": "label"}
      }
    }
  ]
}
